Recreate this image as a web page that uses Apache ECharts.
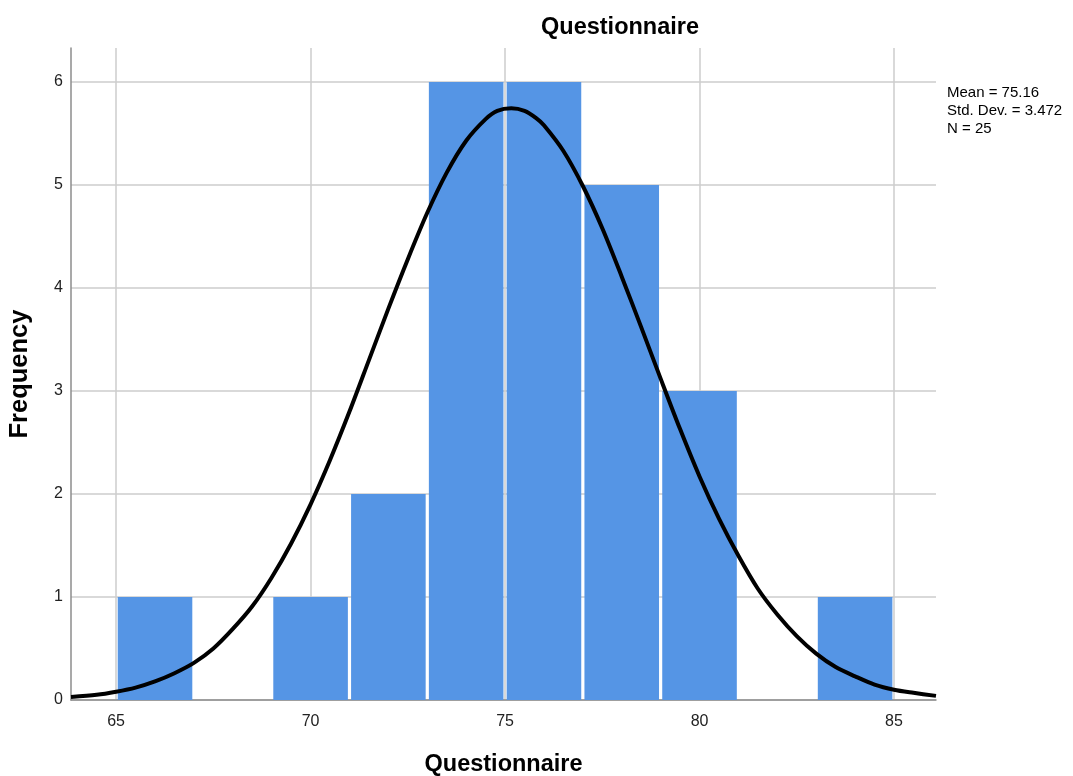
<!DOCTYPE html>
<html>
<head>
<meta charset="utf-8">
<script src="https://cdn.jsdelivr.net/npm/echarts@6/dist/echarts.min.js"></script>
<style>html,body{margin:0;padding:0;background:#fff;}#c{width:1073px;height:776px;}</style>
</head>
<body>
<div id="c"></div>
<script>
// Histogram bins (lower edge, upper edge) and frequencies
const binLow  = [65, 67, 69, 71, 73, 75, 77, 79, 81, 83];
const binHigh = [67, 69, 71, 73, 75, 77, 79, 81, 83, 85];
const counts  = [1, 0, 1, 2, 6, 6, 5, 3, 0, 1];
// Normal curve points
const curveX = [63.84, 64.5, 65, 65.5, 66, 66.5, 67, 67.5, 68, 68.5, 69, 69.5, 70, 70.5, 71, 71.5, 72, 72.5, 73, 73.5, 74, 74.5, 74.8, 75.16, 75.5, 75.8, 76, 76.5, 77, 77.5, 78, 78.5, 79, 79.5, 80, 80.5, 81, 81.5, 82, 82.5, 83, 83.5, 84, 84.5, 85, 85.5, 86.08];
const curveY = [0.03, 0.05, 0.08, 0.12, 0.18, 0.26, 0.36, 0.50, 0.69, 0.91, 1.19, 1.52, 1.90, 2.33, 2.80, 3.30, 3.80, 4.28, 4.73, 5.12, 5.43, 5.64, 5.72, 5.745, 5.72, 5.65, 5.58, 5.33, 4.99, 4.58, 4.11, 3.62, 3.12, 2.63, 2.17, 1.76, 1.40, 1.08, 0.83, 0.62, 0.45, 0.32, 0.23, 0.15, 0.10, 0.07, 0.04];
const xTicks = [65, 70, 75, 80, 85];
const yTicks = [0, 1, 2, 3, 4, 5, 6];
const statsLines = ['Mean = 75.16', 'Std. Dev. = 3.472', 'N = 25'];
const titleText = 'Questionnaire';
const xName = 'Questionnaire';
const yName = 'Frequency';

const chart = echarts.init(document.getElementById('c'), null, {renderer: 'canvas'});
const FONT = 'Liberation Sans, Arial, sans-serif';
const barData = binLow.map((lo, i) => [lo, binHigh[i], counts[i]]);
const lineData = curveX.map((x, i) => [x, curveY[i]]);

chart.setOption({
  animation: false,
  backgroundColor: '#ffffff',
  grid: {left: 71, right: 137, top: 48, bottom: 76, containLabel: false, outerBoundsMode: 'none'},
  graphic: [
    {type: 'text', left: 541, top: 16, style: {text: titleText, font: 'bold 23.5px ' + FONT, fill: '#000'}},
    {type: 'text', left: 947, top: 84, style: {text: statsLines.join('\n'), font: '15px ' + FONT, fill: '#000', lineHeight: 18}}
  ],
  xAxis: {
    type: 'value', min: 63.84, max: 86.08,
    name: xName, nameLocation: 'middle', nameGap: 53,
    nameTextStyle: {fontFamily: FONT, fontWeight: 'bold', fontSize: 23.5, color: '#000', verticalAlign: 'top'},
    axisLine: {show: true, lineStyle: {color: '#8c8c8c', width: 1.5}},
    axisTick: {show: false, customValues: xTicks},
    axisLabel: {customValues: xTicks, fontFamily: FONT, fontSize: 16, color: '#222', margin: 14},
    splitLine: {show: true, lineStyle: {color: '#cccccc', width: 1.5}}
  },
  yAxis: {
    type: 'value', min: 0, max: 6.33,
    name: yName, nameLocation: 'middle', nameGap: 38,
    nameTextStyle: {fontFamily: FONT, fontWeight: 'bold', fontSize: 25.5, color: '#000'},
    axisLine: {show: true, lineStyle: {color: '#8c8c8c', width: 1.5}},
    axisTick: {show: false, customValues: yTicks},
    axisLabel: {customValues: yTicks, fontFamily: FONT, fontSize: 16, color: '#222', margin: 8},
    splitLine: {show: true, lineStyle: {color: '#cccccc', width: 1.5}}
  },
  series: [
    {
      type: 'custom',
      data: barData,
      z: 2,
      renderItem: function (params, api) {
        const lo = api.value(0), hi = api.value(1), c = api.value(2);
        if (!c) return null;
        const p0 = api.coord([lo, c]);
        const p1 = api.coord([hi, 0]);
        const gap = 1.6;
        return {
          type: 'rect',
          shape: {x: p0[0] + gap, y: p0[1], width: p1[0] - p0[0] - 2 * gap, height: p1[1] - p0[1]},
          style: {fill: '#5595e5'}
        };
      }
    },
    {
      type: 'line',
      data: lineData,
      z: 3,
      smooth: 0.3,
      showSymbol: false,
      clip: true,
      lineStyle: {color: '#000', width: 4, join: 'round'}
    }
  ]
});
</script>
</body>
</html>
